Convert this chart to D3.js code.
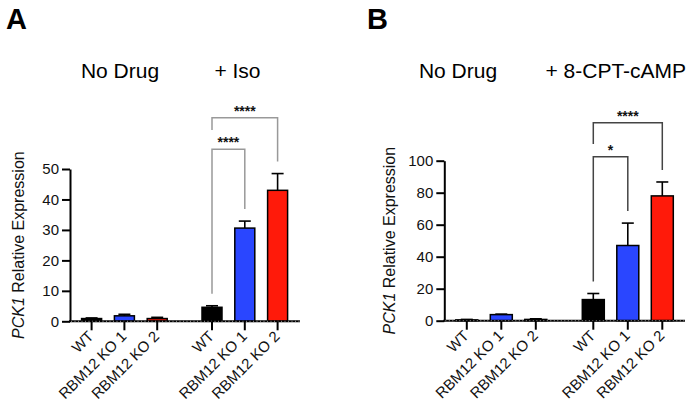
<!DOCTYPE html>
<html><head><meta charset="utf-8">
<script src="https://cdn.jsdelivr.net/npm/d3@7"></script>
<style>body{margin:0;background:#fff}svg{display:block;font-family:"Liberation Sans",Arial,sans-serif}</style>
</head><body><svg id="c" width="700" height="417"></svg>
<script>
const categories = ["WT", "RBM12 KO 1", "RBM12 KO 2"];
const colors = ["#000000", "#2a46ff", "#ff1a0a"];
const groupsA = ["No Drug", "+ Iso"];
const groupsB = ["No Drug", "+ 8-CPT-cAMP"];
const meanA = [0.9, 1.8, 0.9, 4.6, 30.6, 43.0];
const errA  = [0.2, 0.5, 0.4, 0.5, 2.3, 5.5];
const meanB = [0.5, 3.8, 0.8, 13.2, 47.0, 78.0];
const errB  = [0.3, 0.3, 0.4, 3.8, 14.0, 8.7];
const ticksA = [0, 10, 20, 30, 40, 50];
const ticksB = [0, 20, 40, 60, 80, 100];
const sigA = [{from: 3, to: 4, label: "****"}, {from: 3, to: 5, label: "****"}];
const sigB = [{from: 3, to: 4, label: "*"}, {from: 3, to: 5, label: "****"}];

const svg = d3.select("#c");

function panel(o) {
  const g = svg.append("g");
  const y = d3.scaleLinear().domain([0, o.ticks[o.ticks.length - 1]]).range([o.y0, o.y1]);
  const gx = d3.scalePoint().domain(o.groups).range(o.groupRange);
  const cx = d3.scalePoint().domain(categories).range([-o.step, o.step]);
  const rows = [];
  o.groups.forEach((gr, gi) => categories.forEach((c, ci) => {
    const i = gi * 3 + ci;
    rows.push({x: gx(gr) + cx(c), m: o.mean[i], e: o.err[i], color: colors[ci], cat: c});
  }));

  g.append("text").attr("x", o.letterX).attr("y", 29).attr("font-size", 29).attr("font-weight", "bold").text(o.letter);
  o.groups.forEach((gr, i) => {
    g.append("text").attr("x", o.titleX[i]).attr("y", 78).attr("font-size", 21).attr("text-anchor", "middle").text(gr);
  });

  rows.forEach(r => {
    g.append("line").attr("x1", r.x).attr("x2", r.x).attr("y1", y(r.m)).attr("y2", y(r.m + r.e))
      .attr("stroke", "#000").attr("stroke-width", 1.6);
    g.append("line").attr("x1", r.x - 6).attr("x2", r.x + 6).attr("y1", y(r.m + r.e)).attr("y2", y(r.m + r.e))
      .attr("stroke", "#000").attr("stroke-width", 1.6);
  });
  g.selectAll("rect.bar").data(rows).enter().append("rect")
    .attr("x", d => d.x - o.barW / 2).attr("width", o.barW)
    .attr("y", d => y(d.m)).attr("height", d => y(0) - y(d.m))
    .attr("fill", d => d.color).attr("stroke", "#000").attr("stroke-width", 1.5);

  const ya = d3.axisLeft(y).tickValues(o.ticks).tickSize(8).tickPadding(3).tickSizeOuter(0);
  const yg = g.append("g").attr("transform", `translate(${o.axisX},0)`).call(ya);
  yg.select(".domain").attr("stroke", "#000").attr("stroke-width", 2);
  yg.selectAll(".tick line").attr("stroke", "#000").attr("stroke-width", 2);
  yg.selectAll(".tick text").attr("font-size", 15).attr("fill", "#111").attr("font-family", "Liberation Sans, Arial, sans-serif");

  g.append("line").attr("x1", o.axisX - 1).attr("x2", o.axisEnd).attr("y1", y(0)).attr("y2", y(0))
    .attr("stroke", "#000").attr("stroke-width", 2);
  g.append("line").attr("x1", o.axisX + 1).attr("x2", o.axisEnd).attr("y1", y(0)).attr("y2", y(0))
    .attr("stroke", "#fff").attr("stroke-width", 0.6).attr("stroke-dasharray", "1,2.5");
  rows.forEach(r => {
    g.append("line").attr("x1", r.x).attr("x2", r.x).attr("y1", y(0)).attr("y2", y(0) + 9)
      .attr("stroke", "#000").attr("stroke-width", 2);
    g.append("text").attr("transform", `translate(${r.x + 3},${y(0) + 16}) rotate(-45)`)
      .attr("text-anchor", "end").attr("font-size", 15).attr("fill", "#111").text(r.cat);
  });

  const lab = g.append("text").attr("transform", `translate(${o.labelX},${(o.y0 + o.y1) / 2}) rotate(-90)`)
    .attr("text-anchor", "middle").attr("font-size", 16).attr("fill", "#111");
  lab.append("tspan").attr("font-style", "italic").text("PCK1");
  lab.append("tspan").text(" Relative Expression");

  o.sig.forEach((s, k) => {
    const a = rows[s.from], b = rows[s.to];
    const top = o.brTop[k];
    const lb = k === 0 ? y(a.m + a.e) - 12 : o.outerLeftBottom;
    const rb = y(b.m + b.e) - 12;
    g.append("path").attr("d", `M${a.x},${lb}V${top}H${b.x}V${rb}`)
      .attr("fill", "none").attr("stroke", o.brColor).attr("stroke-width", 1.5);
    g.append("text").attr("x", (a.x + b.x) / 2).attr("y", top - 2).attr("text-anchor", "middle")
      .attr("font-size", 14).attr("font-weight", "bold").attr("fill", "#111").text(s.label);
  });
}

panel({letter: "A", letterX: 6, groups: groupsA, mean: meanA, err: errA, ticks: ticksA,
  y0: 321.3, y1: 169, groupRange: [124.4, 244.8], step: 32.8, barW: 20, axisX: 70, axisEnd: 300,
  titleX: [120, 237.5], labelX: 24, sig: sigA, brTop: [149.3, 117.7], outerLeftBottom: 130, brColor: "#999"});
panel({letter: "B", letterX: 367, groups: groupsB, mean: meanB, err: errB, ticks: ticksB,
  y0: 320.7, y1: 160.7, groupRange: [501.3, 627.8], step: 34.5, barW: 22, axisX: 444.3, axisEnd: 685,
  titleX: [458, 615.8], labelX: 395, sig: sigB, brTop: [156.7, 122.7], outerLeftBottom: 144, brColor: "#444"});
</script></body></html>
